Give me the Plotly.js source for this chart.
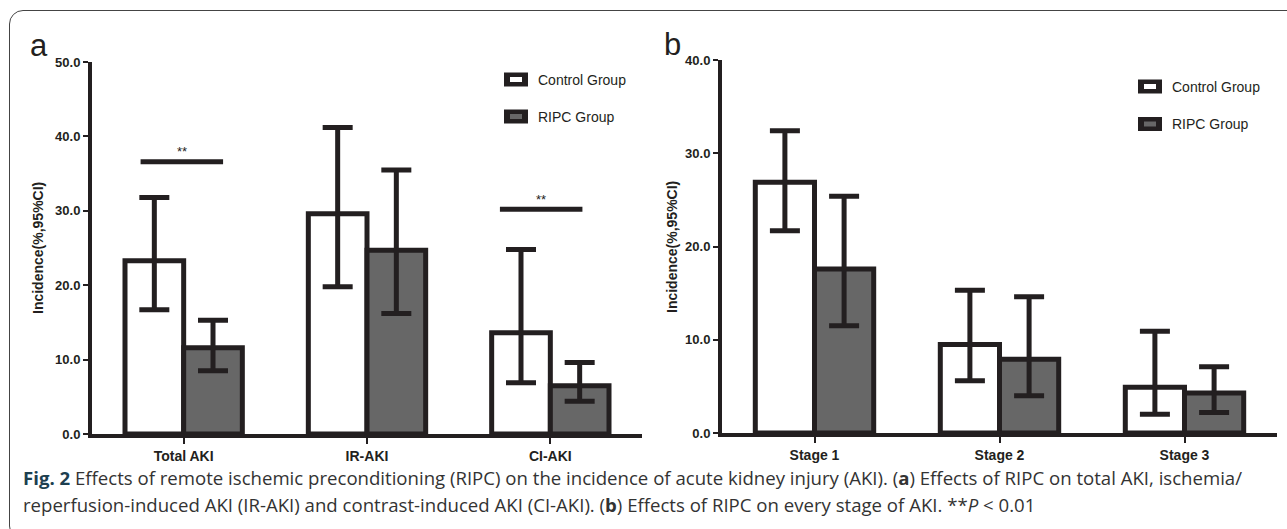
<!DOCTYPE html>
<html>
<head>
<meta charset="utf-8">
<script src="https://cdn.plot.ly/plotly-3.0.1.min.js"></script>
<style>
  html, body { margin: 0; padding: 0; background: #fff; }
  #wrap { position: relative; width: 1287px; height: 529px; overflow: hidden; }
  #frame { position: absolute; left: 9px; top: 10px; width: 1300px; height: 530px;
           border: 1.5px solid #444; border-radius: 14px; box-sizing: border-box; pointer-events: none; }
  #chart { position: absolute; left: 0; top: 0; width: 1287px; height: 529px; }
</style>
</head>
<body>
<div id="wrap">
  <div id="chart"></div>
  <div id="frame"></div>
</div>
<script>
// ---- Data ----
const catsA = ['Total AKI', 'IR-AKI', 'CI-AKI'];
const ctrlA   = [23.3, 29.6, 13.6];
const ctrlAHi = [31.8, 41.2, 24.8];
const ctrlALo = [16.7, 19.8, 6.9];
const ripcA   = [11.6, 24.7, 6.5];
const ripcAHi = [15.3, 35.5, 9.6];
const ripcALo = [8.5, 16.2, 4.4];

const catsB = ['Stage 1', 'Stage 2', 'Stage 3'];
const ctrlB   = [26.9, 9.5, 4.9];
const ctrlBHi = [32.4, 15.3, 10.9];
const ctrlBLo = [21.7, 5.6, 2.0];
const ripcB   = [17.6, 7.9, 4.3];
const ripcBHi = [25.4, 14.6, 7.1];
const ripcBLo = [11.5, 4.0, 2.2];

const seriesNames = ['Control Group', 'RIPC Group'];
const sigA = [{ cat: 0, y: 36.6, label: '**' }, { cat: 2, y: 30.2, label: '**' }];

// ---- Styling ----
const W = 1287, H = 529;
const X = px => px / W;
const Y = py => 1 - py / H;
const INK = '#231f20';
const GRAY = '#676767';
const SANS = '"Liberation Sans", Arial, Helvetica, sans-serif';
const axisFont = { family: SANS, size: 13, color: INK, weight: 'bold' };

function errUp(v, hi) { return v.map((d, i) => hi[i] - d); }
function errDn(v, lo) { return v.map((d, i) => d - lo[i]); }

function barTrace(cats, vals, hi, lo, fill, name, xa, ya) {
  return {
    type: 'bar', x: cats, y: vals, name: name, xaxis: xa, yaxis: ya,
    marker: { color: fill, line: { color: INK, width: 5 } },
    error_y: { type: 'data', symmetric: false, array: errUp(vals, hi), arrayminus: errDn(vals, lo),
               color: INK, thickness: 5, width: 15 },
    showlegend: false, hoverinfo: 'x+y'
  };
}

const data = [
  barTrace(catsA, ctrlA, ctrlAHi, ctrlALo, '#ffffff', seriesNames[0], 'x', 'y'),
  barTrace(catsA, ripcA, ripcAHi, ripcALo, GRAY, seriesNames[1], 'x', 'y'),
  barTrace(catsB, ctrlB, ctrlBHi, ctrlBLo, '#ffffff', seriesNames[0], 'x2', 'y2'),
  barTrace(catsB, ripcB, ripcBHi, ripcBLo, GRAY, seriesNames[1], 'x2', 'y2')
];

function xAxis(domain, anchor) {
  return {
    domain: domain, anchor: anchor, type: 'category', range: [-0.5, 2.5],
    showline: true, linecolor: INK, linewidth: 4, ticks: 'outside', ticklen: 6, tickwidth: 2,
    tickcolor: INK, showgrid: false, zeroline: false, fixedrange: true,
    tickfont: { family: SANS, size: 14, color: INK, weight: 'bold' }
  };
}
function yAxis(domain, anchor, max) {
  return {
    domain: domain, anchor: anchor, range: [0, max], dtick: 10, tickformat: '.1f',
    showline: true, linecolor: INK, linewidth: 4, ticks: 'outside', ticklen: 5, tickwidth: 2,
    tickcolor: INK, showgrid: false, zeroline: false, fixedrange: true, tickfont: axisFont
  };
}

const shapes = [];
const annotations = [];

// significance bars panel a
sigA.forEach(s => {
  const half = 0.225;
  const off = s.cat === 2 ? -0.05 : -0.01;
  shapes.push({ type: 'line', xref: 'x', yref: 'y', x0: s.cat - half + off, x1: s.cat + half + off,
                y0: s.y, y1: s.y, line: { color: INK, width: 5 } });
  annotations.push({ xref: 'x', yref: 'y', x: s.cat + off, y: s.y, yshift: 10, text: s.label,
                     showarrow: false, font: { family: SANS, size: 13, color: INK } });
});

// custom legends
function legend(x0, yc0, yc1) {
  [[yc0, '#ffffff', seriesNames[0]], [yc1, GRAY, seriesNames[1]]].forEach(([yc, fill, name]) => {
    shapes.push({ type: 'rect', xref: 'paper', yref: 'paper', x0: X(x0), x1: X(x0 + 24),
                  y0: Y(yc + 7), y1: Y(yc - 7), fillcolor: INK, line: { width: 0 } });
    shapes.push({ type: 'rect', xref: 'paper', yref: 'paper', x0: X(x0 + 6), x1: X(x0 + 18),
                  y0: Y(yc + 2.5), y1: Y(yc - 2.5), fillcolor: fill, line: { width: 0 } });
    annotations.push({ xref: 'paper', yref: 'paper', x: X(x0 + 32), y: Y(yc), xanchor: 'left', yanchor: 'middle',
                       text: name, showarrow: false,
                       font: { family: SANS, size: 14, color: INK } });
  });
}
legend(504, 79.5, 116.5);
legend(1138, 86.5, 124);

// panel letters
annotations.push({ xref: 'paper', yref: 'paper', x: X(28), y: Y(46), xanchor: 'left', yanchor: 'middle', text: 'a',
                   showarrow: false, font: { family: SANS, size: 31, color: INK } });
annotations.push({ xref: 'paper', yref: 'paper', x: X(662), y: Y(44), xanchor: 'left', yanchor: 'middle', text: 'b',
                   showarrow: false, font: { family: SANS, size: 31, color: INK } });

// y-axis titles
[[38, 248], [672, 247]].forEach(([x, y]) => {
  annotations.push({ xref: 'paper', yref: 'paper', x: X(x), y: Y(y), xanchor: 'center', yanchor: 'middle',
                     textangle: -90, text: 'Incidence(%,95%CI)', showarrow: false,
                     font: { family: SANS, size: 14, color: INK, weight: 'bold' } });
});

// caption
const capFont = { family: '"Open Sans", "Noto Sans", sans-serif', size: 18.6, color: '#333333' };
annotations.push({ xref: 'paper', yref: 'paper', x: X(21), y: Y(477), xanchor: 'left', yanchor: 'middle', showarrow: false,
  font: capFont, align: 'left',
  text: '<b><span style="color:#1d3f50">Fig. 2</span></b> Effects of remote ischemic preconditioning (RIPC) on the incidence of acute kidney injury (AKI). (<b>a</b>) Effects of RIPC on total AKI, ischemia/' });
annotations.push({ xref: 'paper', yref: 'paper', x: X(21), y: Y(504), xanchor: 'left', yanchor: 'middle', showarrow: false,
  font: capFont, align: 'left',
  text: 'reperfusion-induced AKI (IR-AKI) and contrast-induced AKI (CI-AKI). (<b>b</b>) Effects of RIPC on every stage of AKI. **<i>P</i> < 0.01' });

const layout = {
  width: W, height: H, margin: { l: 0, r: 0, t: 0, b: 0 },
  paper_bgcolor: 'rgba(0,0,0,0)', plot_bgcolor: 'rgba(0,0,0,0)',
  barmode: 'group', bargap: 0.36, bargroupgap: 0,
  showlegend: false,
  xaxis: xAxis([X(92), X(642)], 'y'),
  yaxis: yAxis([Y(434), Y(62)], 'x', 50),
  xaxis2: xAxis([X(722), X(1277)], 'y2'),
  yaxis2: yAxis([Y(433), Y(60)], 'x2', 40),
  shapes: shapes, annotations: annotations
};

Plotly.newPlot('chart', data, layout, { displayModeBar: false, staticPlot: true });
</script>
</body>
</html>
